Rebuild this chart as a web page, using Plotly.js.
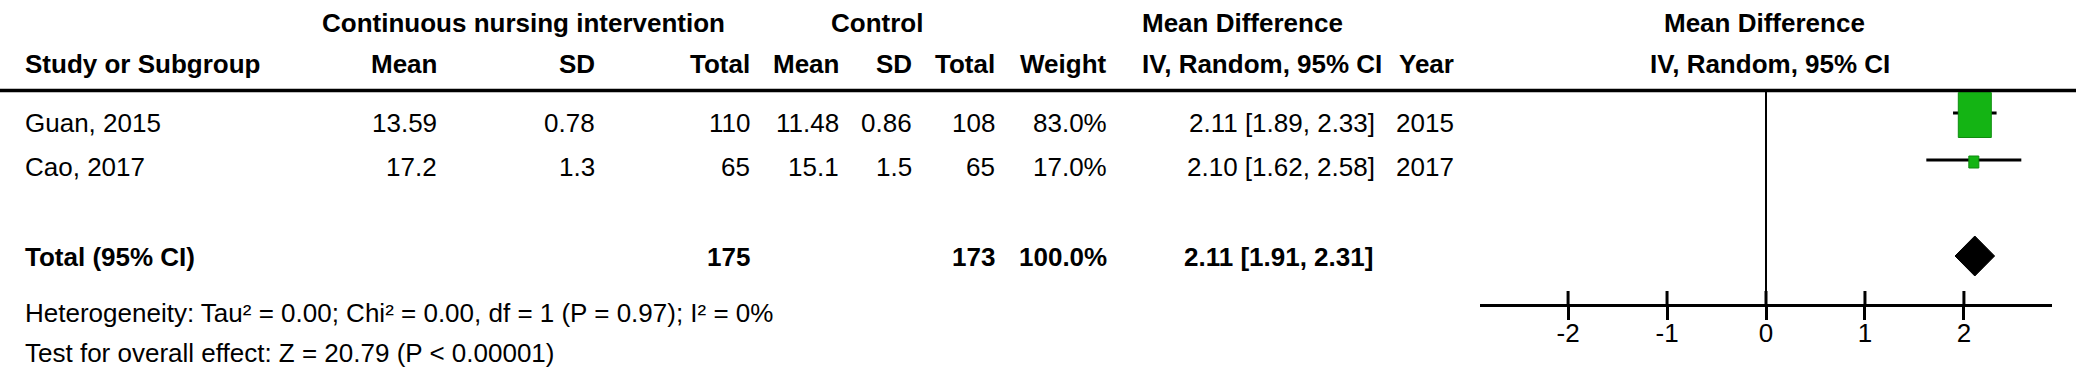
<!DOCTYPE html>
<html>
<head>
<meta charset="utf-8">
<script src="https://cdn.plot.ly/plotly-3.0.1.min.js"></script>
<style>html,body{margin:0;padding:0;background:#fff;}#chart{width:2079px;height:383px;}</style>
</head>
<body>
<div id="chart"></div>
<script>
// ---------- data ----------
const studies = ["Guan, 2015", "Cao, 2017"];
const expMean = [13.59, 17.2];
const expSD = [0.78, 1.3];
const expTotal = [110, 65];
const ctlMean = [11.48, 15.1];
const ctlSD = [0.86, 1.5];
const ctlTotal = [108, 65];
const weights = [83.0, 17.0];
const meanDiff = [2.11, 2.10];
const ciLow = [1.89, 1.62];
const ciHigh = [2.33, 2.58];
const years = [2015, 2017];
const pooledExpTotal = 175;
const pooledCtlTotal = 173;
const pooledWeight = 100.0;
const pooledMD = 2.11;
const pooledLow = 1.91;
const pooledHigh = 2.31;
const heterogeneityText = "Heterogeneity: Tau² = 0.00; Chi² = 0.00, df = 1 (P = 0.97); I² = 0%";
const overallText = "Test for overall effect: Z = 20.79 (P < 0.00001)";
const tickVals = [-2, -1, 0, 1, 2];
const tickLabels = ["-2", "-1", "0", "1", "2"];

// ---------- layout constants (pixels) ----------
const W = 2079, H = 383;
const FONT = "Liberation Sans, Arial, sans-serif";
const FS = 26;
const yHead1 = 23, yHead2 = 63.5, yRule = 90.5;
const rowText = [123, 167];
const rowMark = [115, 162];
const sqW = [33, 10], sqH = [45, 12];
const yTotal = 257, yHet = 313, yTest = 353;
const yAxis = 305, tickTop = 291;
const axLeft = 1480, axRight = 2052, xRange = [-2.89, 2.89];
const pxPerUnit = (axRight - axLeft) / (xRange[1] - xRange[0]);
const col = {study: 24, eMean: 437.5, eSD: 596, eTot: 751, cMean: 840, cSD: 913, cTot: 996, wt: 1108, ci: 1376, ciHead: 1141, year: 1455};

const ann = [];
function t(text, px, y, anchor, bold) {
  ann.push({text: bold ? "<b>" + text + "</b>" : text, x: px / W, xref: "paper", y: y, yref: "y",
    xanchor: anchor, yanchor: "middle", showarrow: false, borderpad: 0,
    font: {family: FONT, size: FS, color: "#000"}});
}
// header row 1
t("Continuous nursing intervention", 523.5, yHead1, "center", true);
t("Control", 877, yHead1, "center", true);
t("Mean Difference", col.ciHead, yHead1, "left", true);
t("Mean Difference", 1764, yHead1, "center", true);
// header row 2
t("Study or Subgroup", col.study, yHead2, "left", true);
t("Mean", col.eMean, yHead2, "right", true);
t("SD", col.eSD, yHead2, "right", true);
t("Total", col.eTot, yHead2, "right", true);
t("Mean", col.cMean, yHead2, "right", true);
t("SD", col.cSD, yHead2, "right", true);
t("Total", col.cTot, yHead2, "right", true);
t("Weight", col.wt, yHead2, "right", true);
t("IV, Random, 95% CI", col.ciHead, yHead2, "left", true);
t("Year", col.year, yHead2, "right", true);
t("IV, Random, 95% CI", 1770, yHead2, "center", true);
// study rows
studies.forEach((s, i) => {
  const y = rowText[i];
  t(s, col.study, y, "left", false);
  t(String(expMean[i]), col.eMean, y, "right", false);
  t(String(expSD[i]), col.eSD, y, "right", false);
  t(String(expTotal[i]), col.eTot, y, "right", false);
  t(String(ctlMean[i]), col.cMean, y, "right", false);
  t(String(ctlSD[i]), col.cSD, y, "right", false);
  t(String(ctlTotal[i]), col.cTot, y, "right", false);
  t(weights[i].toFixed(1) + "%", col.wt, y, "right", false);
  t(meanDiff[i].toFixed(2) + " [" + ciLow[i].toFixed(2) + ", " + ciHigh[i].toFixed(2) + "]", col.ci, y, "right", false);
  t(String(years[i]), col.year, y, "right", false);
});
// total row
t("Total (95% CI)", col.study, yTotal, "left", true);
t(String(pooledExpTotal), col.eTot, yTotal, "right", true);
t(String(pooledCtlTotal), col.cTot, yTotal, "right", true);
t(pooledWeight.toFixed(1) + "%", col.wt, yTotal, "right", true);
t(pooledMD.toFixed(2) + " [" + pooledLow.toFixed(2) + ", " + pooledHigh.toFixed(2) + "]", col.ci - 2.5, yTotal, "right", true);
t(heterogeneityText, col.study, yHet, "left", false);
t(overallText, col.study, yTest, "left", false);

// ---------- shapes ----------
const shapes = [];
shapes.push({type: "line", xref: "paper", yref: "y", x0: 0, x1: 2076 / W, y0: yRule, y1: yRule, line: {color: "#000", width: 3.5}});
shapes.push({type: "line", xref: "x", yref: "y", x0: 0, x1: 0, y0: yRule, y1: yAxis, line: {color: "#000", width: 2}});
studies.forEach((s, i) => {
  const hw = sqW[i] / 2 / pxPerUnit;
  shapes.push({type: "rect", xref: "x", yref: "y", x0: meanDiff[i] - hw, x1: meanDiff[i] + hw,
    y0: rowMark[i] - sqH[i] / 2, y1: rowMark[i] + sqH[i] / 2,
    fillcolor: "#14b414", line: {color: "#0f8c0f", width: 1}, layer: "above"});
});
shapes.push({type: "path", xref: "x", yref: "y",
  path: `M ${pooledLow},${yTotal - 1} L ${pooledMD},${yTotal - 21} L ${pooledHigh},${yTotal - 1} L ${pooledMD},${yTotal + 19} Z`,
  fillcolor: "#000", line: {color: "#000", width: 1}});

// ---------- traces ----------
const ciX = [], ciY = [];
studies.forEach((s, i) => { ciX.push(ciLow[i], ciHigh[i], null); ciY.push(rowMark[i] - 2, rowMark[i] - 2, null); });
const tkX = [], tkY = [];
tickVals.forEach(v => { tkX.push(v, v, null); tkY.push(tickTop, yAxis, null); });

const data = [
  {type: "scatter", mode: "lines", x: ciX, y: ciY, line: {color: "#000", width: 3}, hoverinfo: "skip"},
  {type: "scatter", mode: "lines", x: tkX, y: tkY, line: {color: "#000", width: 3}, hoverinfo: "skip"}
];

const layout = {
  width: W, height: H,
  margin: {l: 0, r: 0, t: 0, b: 0},
  paper_bgcolor: "#fff", plot_bgcolor: "rgba(0,0,0,0)",
  showlegend: false,
  font: {family: FONT, size: FS, color: "#000"},
  xaxis: {domain: [axLeft / W, axRight / W], range: xRange, anchor: "free", position: 1 - yAxis / H,
    showline: true, linewidth: 3, linecolor: "#000", ticks: "outside", ticklen: 13, tickwidth: 3, tickcolor: "#000",
    ticklabelstandoff: -9,
    tickvals: tickVals, ticktext: tickLabels, tickfont: {family: FONT, size: FS, color: "#000"},
    showgrid: false, zeroline: false, fixedrange: true},
  yaxis: {domain: [0, 1], range: [H, 0], visible: false, fixedrange: true, anchor: "free", position: 0},
  annotations: ann,
  shapes: shapes
};
Plotly.newPlot("chart", data, layout, {staticPlot: true, displayModeBar: false});
</script>
</body>
</html>
